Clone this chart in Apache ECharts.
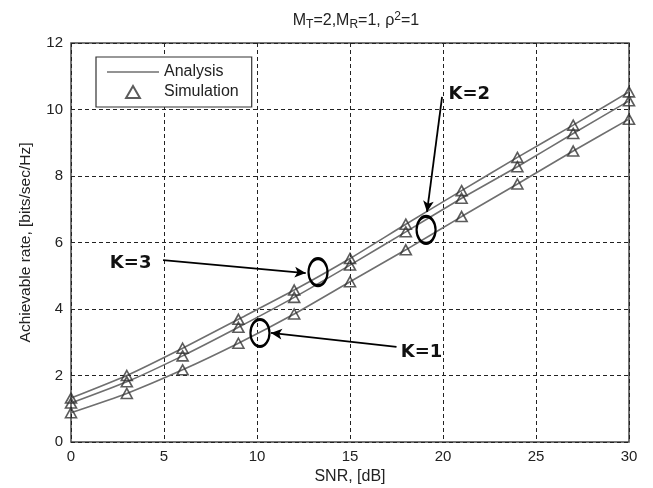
<!DOCTYPE html>
<html>
<head>
<meta charset="utf-8">
<script src="https://cdn.jsdelivr.net/npm/echarts@6/dist/echarts.min.js"></script>
<style>
  html, body { margin: 0; padding: 0; background: #fff; }
  #chart { width: 653px; height: 488px; }
</style>
</head>
<body>
<div id="chart"></div>
<script>
// SNR points (dB)
const snr = [0, 3, 6, 9, 12, 15, 18, 21, 24, 27, 30]
// achievable rate, bits/sec/Hz
const rateK3 = [1.32, 2.0, 2.82, 3.69, 4.57, 5.52, 6.55, 7.56, 8.56, 9.53, 10.53]
const rateK2 = [1.17, 1.81, 2.59, 3.45, 4.35, 5.32, 6.32, 7.33, 8.28, 9.28, 10.26]
const rateK1 = [0.88, 1.46, 2.17, 2.97, 3.85, 4.82, 5.78, 6.78, 7.76, 8.75, 9.71]

// annotation anchors in data space: label, label pos, arrow from, arrow to, ellipse centre
const notes = [
  { text: 'K=3', label: [4.35, 5.38], align: 'right', from: [4.95, 5.47], to: [12.62, 5.08], ring: [13.28, 5.11] },
  { text: 'K=2', label: [20.27, 10.47], align: 'left', from: [19.95, 10.38], to: [19.14, 6.92], ring: [19.09, 6.38] },
  { text: 'K=1', label: [17.7, 2.71], align: 'left', from: [17.5, 2.86], to: [10.75, 3.28], ring: [10.16, 3.28] }
]

const pairs = d => snr.map((x, i) => [x, d[i]])
const lineColor = '#6f6f6f'
const font = 'Liberation Sans'

const lineSeries = [rateK3, rateK2, rateK1].map(d => ({
  name: 'Analysis',
  type: 'line',
  data: pairs(d),
  smooth: 0.2,
  symbol: 'none',
  lineStyle: { color: lineColor, width: 1.6 },
  itemStyle: { color: lineColor },
  z: 2
}))

const simSeries = [rateK3, rateK2, rateK1].map(d => ({
  name: 'Simulation',
  type: 'scatter',
  data: pairs(d),
  symbol: 'triangle',
  symbolSize: [11, 10],
  itemStyle: { color: 'rgba(255,255,255,0)', borderColor: '#333', borderWidth: 1.6 },
  z: 3
}))

// annotations hang off an empty helper series
const noteSeries = {
  type: 'scatter',
  data: [],
  silent: true,
  markLine: {
    silent: true,
    symbol: ['none', 'arrow'],
    symbolSize: [8, 11],
    lineStyle: { color: '#000', width: 1.8, type: 'solid' },
    label: { show: false },
    data: notes.map(n => [{ coord: n.from }, { coord: n.to }])
  },
  markPoint: {
    silent: true,
    data: notes.map(n => ({
      coord: n.ring,
      symbol: 'circle',
      symbolSize: [19, 27],
      itemStyle: { color: 'rgba(255,255,255,0)', borderColor: '#000', borderWidth: 2.6 },
      label: { show: false }
    })).concat(notes.map(n => ({
      coord: n.label,
      symbol: 'rect',
      symbolSize: 1,
      itemStyle: { color: 'rgba(255,255,255,0)' },
      label: {
        show: true,
        formatter: n.text,
        position: n.align === 'right' ? 'left' : 'right',
        distance: 0,
        color: '#111',
        fontFamily: 'DejaVu Sans',
        fontWeight: 'bold',
        fontSize: 18
      }
    })))
  }
}

const chart = echarts.init(document.getElementById('chart'))

chart.setOption({
  backgroundColor: '#fff',
  animation: false,
  title: {
    text: 'M{sub|T}=2,M{sub|R}=1, ρ{sup|2}=1',
    left: 351,
    top: 6,
    textAlign: 'center',
    textStyle: {
      fontFamily: font,
      fontSize: 16,
      fontWeight: 'normal',
      color: '#222',
      rich: {
        sub: { fontFamily: font, fontSize: 12, verticalAlign: 'bottom', padding: [8, 0, 0, 0], color: '#222' },
        sup: { fontFamily: font, fontSize: 12, verticalAlign: 'top', padding: [0, 0, 8, 0], color: '#222' }
      }
    }
  },
  legend: {
    left: 96,
    top: 57,
    orient: 'vertical',
    data: [
      { name: 'Analysis', icon: 'path://M0,0H52V1.6H0Z' },
      { name: 'Simulation', icon: 'path://M6,0L12,10.4L0,10.4Z' }
    ],
    backgroundColor: '#fff',
    borderColor: '#333',
    borderWidth: 1.2,
    padding: [7, 13, 7, 11],
    itemGap: 4,
    itemWidth: 52,
    itemHeight: 12,
    textStyle: { fontFamily: font, fontSize: 16, color: '#222' }
  },
  grid: {
    left: 71, right: 24, top: 43, bottom: 46,
    outerBoundsMode: 'none',
    show: true, borderColor: '#4a4a4a', borderWidth: 1.5
  },
  xAxis: {
    type: 'value',
    min: 0,
    max: 30,
    interval: 5,
    name: 'SNR, [dB]',
    nameLocation: 'middle',
    nameGap: 25,
    nameTextStyle: { fontFamily: font, fontSize: 16, color: '#222' },
    axisLine: { show: false },
    axisTick: { show: false },
    axisLabel: { fontFamily: font, fontSize: 15, color: '#222', margin: 7 },
    splitLine: { lineStyle: { color: '#222', type: [4, 3], width: 1 } }
  },
  yAxis: {
    type: 'value',
    min: 0,
    max: 12,
    interval: 2,
    name: 'Achievable rate, [bits/sec/Hz]',
    nameLocation: 'middle',
    nameRotate: 90,
    nameGap: 37,
    nameTextStyle: { fontFamily: font, fontSize: 15.5, color: '#222' },
    axisLine: { show: false },
    axisTick: { show: false },
    axisLabel: { fontFamily: font, fontSize: 15, color: '#222', margin: 8 },
    splitLine: { lineStyle: { color: '#222', type: [4, 3], width: 1 } }
  },
  series: [...lineSeries, ...simSeries, noteSeries]
})
</script>
</body>
</html>
